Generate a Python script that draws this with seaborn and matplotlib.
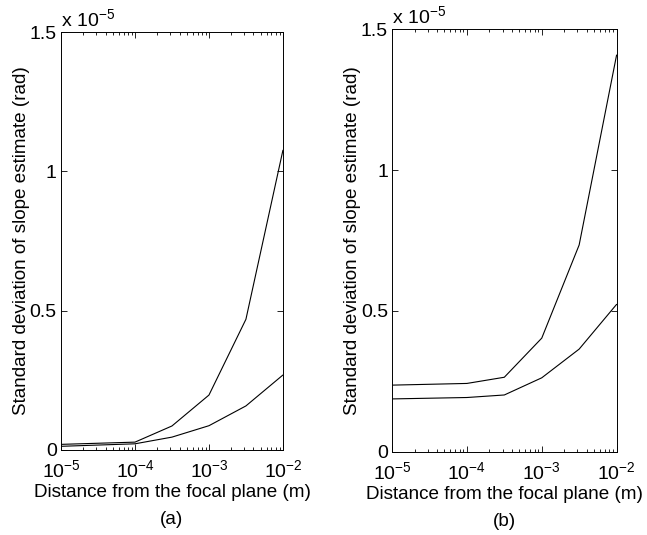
import numpy as np
import pandas as pd
import matplotlib
matplotlib.use("Agg")
import matplotlib.pyplot as plt
import seaborn as sns
from matplotlib.ticker import LogLocator, NullFormatter

# Data (y values in units of 1e-5 rad)
distance = [1e-5, 1e-4, 3.16e-4, 1e-3, 3.16e-3, 1e-2]
a_upper = [0.020, 0.028, 0.086, 0.197, 0.469, 1.076]
a_lower = [0.013, 0.022, 0.046, 0.087, 0.158, 0.269]
b_upper = [0.236, 0.242, 0.264, 0.403, 0.734, 1.409]
b_lower = [0.187, 0.192, 0.201, 0.262, 0.364, 0.523]
ytick_vals = [0, 0.5, 1, 1.5]
ytick_labels = ["0", "0.5", "1", "1.5"]
xtick_vals = [1e-5, 1e-4, 1e-3, 1e-2]
xtick_labels = [r"$10^{-5}$", r"$10^{-4}$", r"$10^{-3}$", r"$10^{-2}$"]
panel_labels = ["(a)", "(b)"]

sns.set_style("ticks")
plt.rcParams["font.family"] = ["Liberation Sans", "DejaVu Sans"]
plt.rcParams["mathtext.fontset"] = "custom"
plt.rcParams["mathtext.rm"] = "Liberation Sans"
plt.rcParams["mathtext.it"] = "Liberation Sans:italic"
plt.rcParams["mathtext.bf"] = "Liberation Sans:bold"
for k in ["text.color", "axes.labelcolor", "xtick.color", "ytick.color", "axes.edgecolor"]:
    plt.rcParams[k] = "black"

fig = plt.figure(figsize=(6.47, 5.35), dpi=100)
axA = fig.add_axes([0.0943, 0.159, 0.343, 0.781])
axB = fig.add_axes([0.606, 0.156, 0.347, 0.789])

fs = 13.6
tfs = 14
for ax, up, lo, lab in [(axA, a_upper, a_lower, panel_labels[0]),
                        (axB, b_upper, b_lower, panel_labels[1])]:
    df = pd.DataFrame({"x": distance * 2,
                       "y": up + lo,
                       "s": ["upper"] * len(distance) + ["lower"] * len(distance)})
    sns.lineplot(data=df, x="x", y="y", units="s", estimator=None,
                 color="black", lw=0.8, ax=ax)
    ax.set_xscale("log")
    ax.set_xlim(1e-5, 1e-2)
    ax.set_ylim(0, 1.5)
    ax.set_yticks(ytick_vals)
    ax.set_yticklabels(ytick_labels, fontsize=tfs)
    ax.set_xticks(xtick_vals)
    ax.set_xticklabels(xtick_labels, fontsize=tfs)
    ax.xaxis.set_minor_locator(LogLocator(base=10, subs=np.arange(2, 10), numticks=20))
    ax.xaxis.set_minor_formatter(NullFormatter())
    ax.tick_params(which="both", direction="in", top=True, right=True,
                   width=0.6, color="black", labelcolor="black")
    ax.tick_params(which="major", length=4)
    ax.tick_params(axis="x", which="major", pad=7)
    ax.tick_params(axis="y", which="major", pad=3)
    ax.tick_params(which="minor", length=2.5)
    for sp in ax.spines.values():
        sp.set_linewidth(0.7)
        sp.set_color("black")
    ax.set_xlabel("Distance from the focal plane (m)", fontsize=fs, labelpad=2,
                  color="black")
    ax.set_ylabel("Standard deviation of slope estimate (rad)", fontsize=fs,
                  labelpad=0, color="black")
    ax.text(0.0, 1.005, r"x $10^{-5}$", transform=ax.transAxes, fontsize=tfs,
            ha="left", va="bottom", color="black")
    ax.text(0.5, -0.145, lab, transform=ax.transAxes, fontsize=fs,
            ha="center", va="top", color="black")
    ax.grid(False)

fig.savefig("out.png", dpi=100, facecolor="white")
